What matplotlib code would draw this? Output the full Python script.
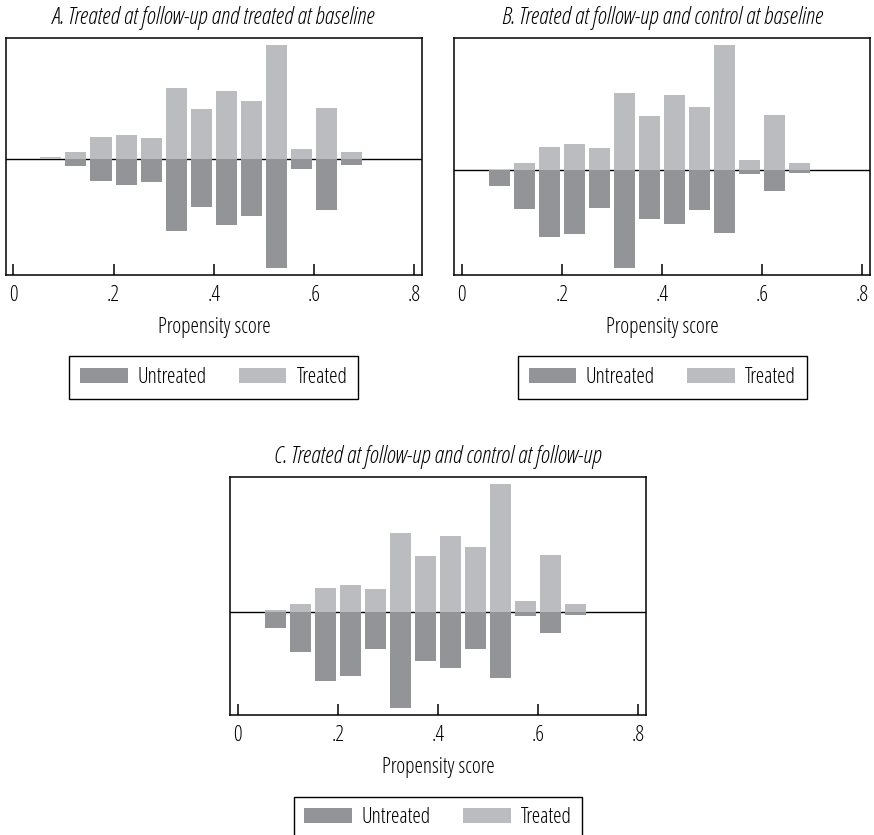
import matplotlib
matplotlib.use("Agg")
import matplotlib.pyplot as plt
import numpy as np

plt.rcParams['font.family'] = ['Open Sans', 'DejaVu Sans']
plt.rcParams['font.stretch'] = 'condensed'
plt.rcParams['font.weight'] = 'medium'

# bin midpoints of the propensity score histogram
bins = [0.075, 0.125, 0.175, 0.225, 0.275, 0.325, 0.375,
        0.425, 0.475, 0.525, 0.575, 0.625, 0.675]

# heights (density)
a_treated = [0.06, 0.20, 0.66, 0.71, 0.63, 2.12, 1.49, 2.03, 1.73, 3.41, 0.29, 1.52, 0.20]
a_untreated = [0.01, 0.21, 0.67, 0.78, 0.70, 2.16, 1.44, 1.98, 1.71, 3.27, 0.30, 1.53, 0.18]
b_treated = [0.01, 0.21, 0.69, 0.78, 0.66, 2.31, 1.62, 2.24, 1.89, 3.75, 0.29, 1.65, 0.21]
b_untreated = [0.47, 1.16, 2.00, 1.91, 1.13, 2.93, 1.46, 1.61, 1.19, 1.88, 0.13, 0.62, 0.08]
c_treated = [0.04, 0.23, 0.71, 0.80, 0.68, 2.36, 1.67, 2.27, 1.94, 3.83, 0.32, 1.70, 0.23]
c_untreated = [0.48, 1.20, 2.07, 1.92, 1.11, 2.88, 1.47, 1.68, 1.11, 1.98, 0.12, 0.63, 0.09]

titles = ["A. Treated at follow-up and treated at baseline",
          "B. Treated at follow-up and control at baseline",
          "C. Treated at follow-up and control at follow-up"]
ylims = [(-3.49, 3.63), (-3.15, 3.97), (-3.10, 4.05)]
xticks = [0, 0.2, 0.4, 0.6, 0.8]
xticklabels = ["0", ".2", ".4", ".6", ".8"]

dark = '#939498'
light = '#bbbcc0'
fs = 15.5

fig = plt.figure(figsize=(8.74, 8.35), dpi=100)
positions = [
    [0.0069, 0.6707, 0.4756, 0.2842],
    [0.5198, 0.6707, 0.4756, 0.2842],
    [0.2635, 0.1437, 0.4753, 0.2854],
]
data = [(a_treated, a_untreated), (b_treated, b_untreated), (c_treated, c_untreated)]

for pos, title, (tr, un), yl in zip(positions, titles, data, ylims):
    ax = fig.add_axes(pos)
    ax.axhline(0, color='black', lw=1.0, zorder=1)
    ax.bar(bins, -np.array(un), width=0.042, color=dark, label='Untreated', zorder=2)
    ax.bar(bins, tr, width=0.042, color=light, label='Treated', zorder=2)
    ax.set_xlim(-0.0146, 0.8153)
    ax.set_ylim(*yl)
    ax.set_yticks([])
    ax.set_xticks(xticks)
    ax.set_xticklabels(xticklabels, fontsize=fs)
    ax.tick_params(axis='x', direction='in', length=8, width=1.1, pad=7)
    for s in ax.spines.values():
        s.set_linewidth(1.1)
    ax.set_title(title, fontsize=17, style='italic', pad=10)
    ax.set_xlabel("Propensity score", fontsize=fs, labelpad=8)
    ax.legend(loc='center', bbox_to_anchor=(0.5, -0.432), ncol=2, fontsize=fs,
              frameon=True, fancybox=False, edgecolor='black', framealpha=1,
              handlelength=2.2, handleheight=0.7, handletextpad=0.47,
              columnspacing=1.5, borderpad=0.5).get_frame().set_linewidth(1.0)

fig.savefig("out.png", dpi=100)
plt.close(fig)
